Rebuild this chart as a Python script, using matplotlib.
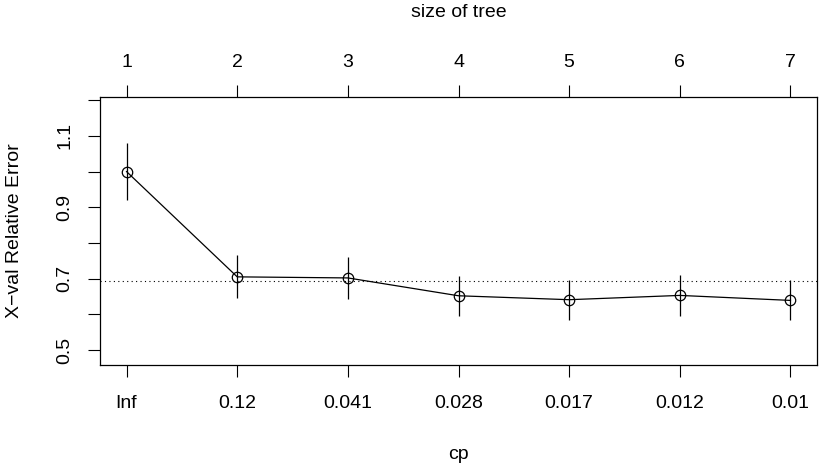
import numpy as np
import matplotlib
matplotlib.use("Agg")
import matplotlib.pyplot as plt

plt.rcParams["font.family"] = ["Liberation Sans", "DejaVu Sans"]

# --- data ---
tree_size = [1, 2, 3, 4, 5, 6, 7]
cp_labels = ["Inf", "0.12", "0.041", "0.028", "0.017", "0.012", "0.01"]
xerror = [1.000, 0.705, 0.702, 0.652, 0.641, 0.653, 0.639]
xstd = [0.080, 0.060, 0.060, 0.056, 0.056, 0.057, 0.056]
min_line = 0.6935  # min xerror + 1 SE

x = np.array(tree_size)
y = np.array(xerror)
err = np.array(xstd)

FS = 14
W, H = 819, 465
fig = plt.figure(figsize=(W / 100, H / 100), dpi=100)
# box in pixels: left 100, right 817, top 97, bottom 365
ax = fig.add_axes([100 / W, 100 / H, 717 / W, 268 / H])

ax.vlines(x, y - err, y + err, color="black", lw=0.9)
ax.plot(x, y, color="black", lw=0.9, marker="o", ms=7.5,
        mfc="none", mec="black", mew=0.9)
ax.axhline(min_line, color="black", lw=0.8, ls=(0, (1, 3)))

ax.set_xlim(0.76, 7.24)
ax.set_ylim(0.458, 1.209)

# bottom axis: cp values
ax.set_xticks(x)
ax.set_xticklabels(cp_labels)
ax.tick_params(axis="x", length=8.6, width=0.8, pad=13, labelsize=FS)
ax.set_xlabel("cp", fontsize=FS)
ax.xaxis.label.set_va("baseline")
ax.xaxis.set_label_coords(0.5, (365 - 459) / 268)

# left axis
yt = np.round(np.arange(0.5, 1.21, 0.1), 1)
ax.set_yticks(yt)
ax.set_yticklabels([f"{v:g}" if i % 2 == 0 else "" for i, v in enumerate(yt)],
                   rotation=90, va="center")
ax.tick_params(axis="y", length=8.6, width=0.8, pad=10.5, labelsize=FS)
ax.set_ylabel("X\u2212val Relative Error", fontsize=FS)
ax.yaxis.set_label_coords((23.4 - 100) / 717, 0.5)

for s in ax.spines.values():
    s.set_linewidth(0.9)

# top axis: size of tree
top = ax.secondary_xaxis("top")
top.set_xticks(x)
top.set_xticklabels([str(t) for t in tree_size])
top.tick_params(length=8.6, width=0.8, pad=10, labelsize=FS)
top.spines["top"].set_visible(False)
fig.text(458.5 / W, 1 - 17.3 / H, "size of tree", fontsize=FS,
         ha="center", va="baseline")

fig.savefig("out.png", dpi=100)
